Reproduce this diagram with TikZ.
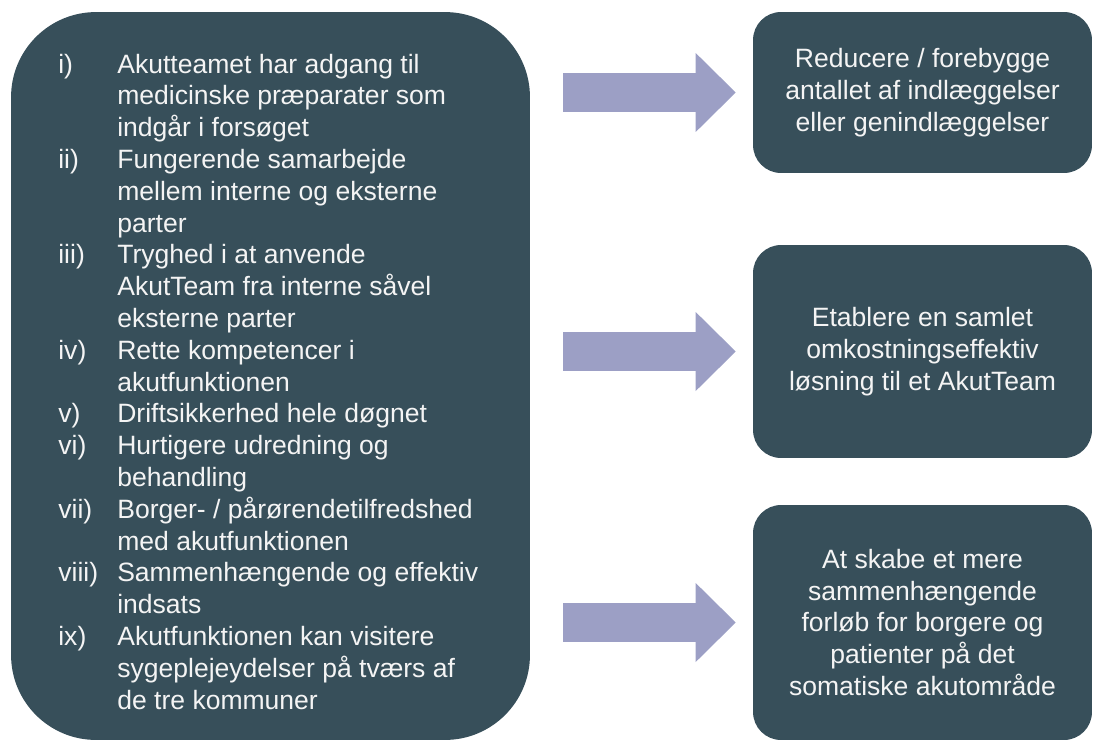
\documentclass[tikz,border=0pt]{standalone}
\usepackage{fontspec}
\setmainfont{Liberation Sans}
\usepackage{tikz}
\usetikzlibrary{arrows.meta, positioning, calc}
\definecolor{boxslate}{HTML}{374F5A}
\definecolor{arrowlilac}{HTML}{9C9FC5}
\definecolor{textwhite}{HTML}{F4F4F4}

\begin{document}
\begin{tikzpicture}[
  x=0.02cm, y=-0.02cm,
  bodyfont/.style={font=\fontsize{15.1}{18.1}\selectfont, text=textwhite},
  basisbox/.style={rectangle, fill=boxslate, rounded corners=1.7cm, minimum width=10.38cm, minimum height=14.56cm, inner sep=0pt},
  goalbox/.style={rectangle, fill=boxslate, rounded corners=0.56cm, minimum width=6.78cm, align=center, inner sep=0pt, bodyfont},
  goalarrow/.style={draw=arrowlilac, line width=0.78cm, -{Triangle[length=0.8cm, width=1.58cm, line width=0pt]}, shorten <=0.66cm, shorten >=0.34cm}
]
  \useasboundingbox (0,0) rectangle (1094,741);

  \node[basisbox] (basis) at (270.5,376) {};
  \node[bodyfont, anchor=base west, inner sep=0pt] (critlist) at (58,73) {%
    \begin{tabular}[t]{@{}p{1.18cm}@{}l@{}}
      i)    & Akutteamet har adgang til\\
            & medicinske præparater som\\
            & indgår i forsøget\\
      ii)   & Fungerende samarbejde\\
            & mellem interne og eksterne\\
            & parter\\
      iii)  & Tryghed i at anvende\\
            & AkutTeam fra interne såvel\\
            & eksterne parter\\
      iv)   & Rette kompetencer i\\
            & akutfunktionen\\
      v)    & Driftsikkerhed hele døgnet\\
      vi)   & Hurtigere udredning og\\
            & behandling\\
      vii)  & Borger- / pårørendetilfredshed\\
            & med akutfunktionen\\
      viii) & Sammenhængende og effektiv\\
            & indsats\\
      ix)   & Akutfunktionen kan visitere\\
            & sygeplejeydelser på tværs af\\
            & de tre kommuner
    \end{tabular}};

  \node[goalbox, minimum height=3.22cm] (goal1) at (922.5,92.5) {Reducere / forebygge\\antallet af indlæggelser\\eller genindlæggelser};
  \node[goalbox, minimum height=4.26cm] (goal2) at (922.5,351.5) {Etablere en samlet\\omkostningseffektiv\\løsning til et AkutTeam};
  \node[goalbox, minimum height=4.7cm] (goal3) at (922.5,622.5) {At skabe et mere\\sammenhængende\\forløb for borgere og\\patienter på det\\somatiske akutområde};

  \draw[goalarrow] (basis.east |- goal1.west) -- (goal1.west);
  \draw[goalarrow] (basis.east |- goal2.west) -- (goal2.west);
  \draw[goalarrow] (basis.east |- goal3.west) -- (goal3.west);
\end{tikzpicture}
\end{document}
